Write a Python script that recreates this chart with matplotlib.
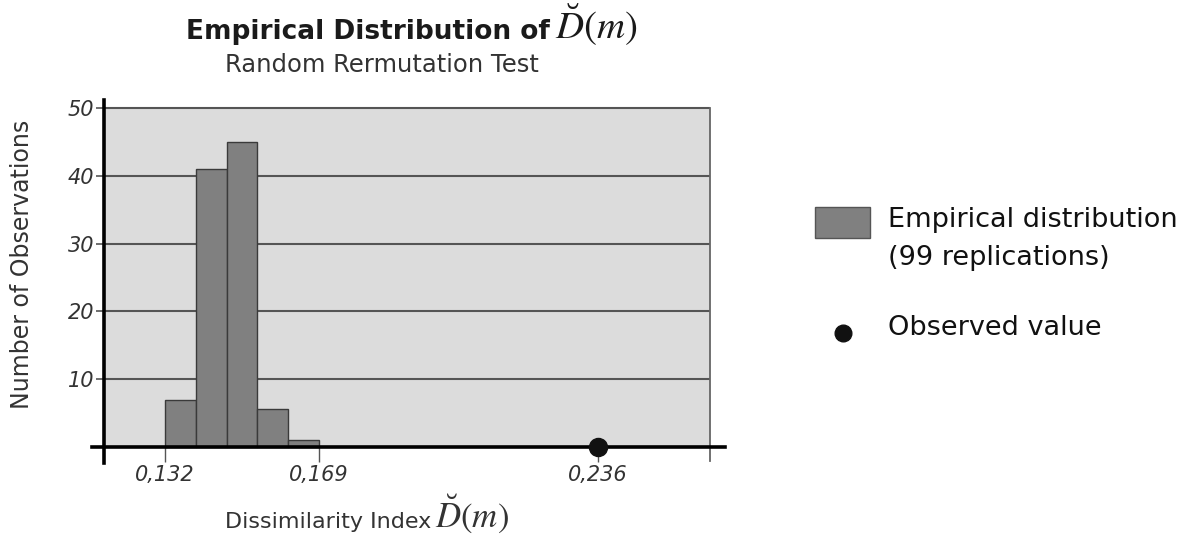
import matplotlib
matplotlib.use("Agg")
import matplotlib.pyplot as plt
from matplotlib.patches import Rectangle
from matplotlib.lines import Line2D

plt.rcParams['mathtext.fontset'] = 'stix'

# histogram of the permutation test (99 replications)
bin_edges = [0.132, 0.1394, 0.1468, 0.1542, 0.1616, 0.169]
counts = [7, 41, 45, 5.6, 1]
observed = 0.236
xticks = [0.132, 0.169, 0.236]
xtick_labels = ["0,132", "0,169", "0,236"]
yticks = [10, 20, 30, 40, 50]

fig = plt.figure(figsize=(11.95, 5.36), dpi=100)
ax = fig.add_axes([92/1195, 1 - 463/536, 633/1195, 363/536])
ax.patch.set_visible(False)

x_left, x_right = 0.11735, 0.26291
ax.set_xlim(0.11447, 0.26651)
ax.set_ylim(-2.36, 51.18)

# grey plotting area
ax.add_patch(Rectangle((x_left, 0), x_right - x_left, 50, facecolor='#dcdcdc',
                       edgecolor='none', zorder=0))
ax.hlines(yticks, x_left, x_right, color='#555555', lw=1.5, zorder=1)
ax.plot([x_right, x_right], [-2.0, 50], color='#666666', lw=1.3, zorder=1, clip_on=False)

widths = [bin_edges[i+1] - bin_edges[i] for i in range(len(counts))]
ax.bar(bin_edges[:-1], counts, width=widths, align='edge', color='#808080',
       edgecolor='#3a3a3a', linewidth=1.0, zorder=2)

ax.plot([observed], [0], 'o', color='#111111', markersize=13, zorder=5, clip_on=False)

for s in ['top', 'right']:
    ax.spines[s].set_visible(False)
ax.spines['left'].set_position(('data', x_left))
ax.spines['bottom'].set_position(('data', 0))
ax.spines['left'].set_linewidth(2.6)
ax.spines['bottom'].set_linewidth(2.6)
ax.spines['left'].set_zorder(4)
ax.spines['bottom'].set_zorder(4)

ax.set_yticks(yticks)
ax.set_yticklabels([str(v) for v in yticks], fontsize=15, style='italic', color='#333333')
ax.tick_params(axis='y', direction='out', length=6, width=1.2, color='#555555', pad=1)
ax.set_xticks(xticks)
ax.set_xticklabels(xtick_labels, fontsize=15, style='italic', color='#333333')
ax.tick_params(axis='x', direction='out', length=11, width=1.0, color='#555555', pad=2)

# titles
fig.text(550/1195, 1 - 39/536, "Empirical Distribution of", ha='right', va='baseline',
         fontsize=19, fontweight='bold', color='#1a1a1a')
fig.text(555/1195, 1 - 39/536, r"$\breve{D}(m)$", ha='left', va='baseline',
         fontsize=28, color='#1a1a1a')
fig.text(382/1195, 1 - 65/536, "Random Rermutation Test", ha='center', va='center',
         fontsize=17.5, color='#333333')
fig.text(22/1195, 1 - 264/536, "Number of Observations", rotation=90, ha='center',
         va='center', fontsize=17, color='#333333')
fig.text(431/1195, 1 - 528/536, "Dissimilarity Index", ha='right', va='baseline',
         fontsize=16, color='#333333')
fig.text(435/1195, 1 - 528/536, r"$\breve{D}(m)$", ha='left', va='baseline',
         fontsize=25, color='#333333')

# legend
fig.add_artist(Rectangle((815/1195, 1 - 238/536), 55/1195, 31/536, transform=fig.transFigure,
                         facecolor='#808080', edgecolor='#555555', linewidth=1))
fig.text(888/1195, 1 - 220/536, "Empirical distribution", ha='left', va='center',
         fontsize=19.5, color='#111111')
fig.text(888/1195, 1 - 258/536, "(99 replications)", ha='left', va='center',
         fontsize=19.5, color='#111111')
fig.add_artist(Line2D([843/1195], [1 - 333/536], marker='o', markersize=12,
                      color='#111111', transform=fig.transFigure))
fig.text(888/1195, 1 - 328/536, "Observed value", ha='left', va='center',
         fontsize=19.5, color='#111111')

fig.savefig("out.png", dpi=100, facecolor='white')
